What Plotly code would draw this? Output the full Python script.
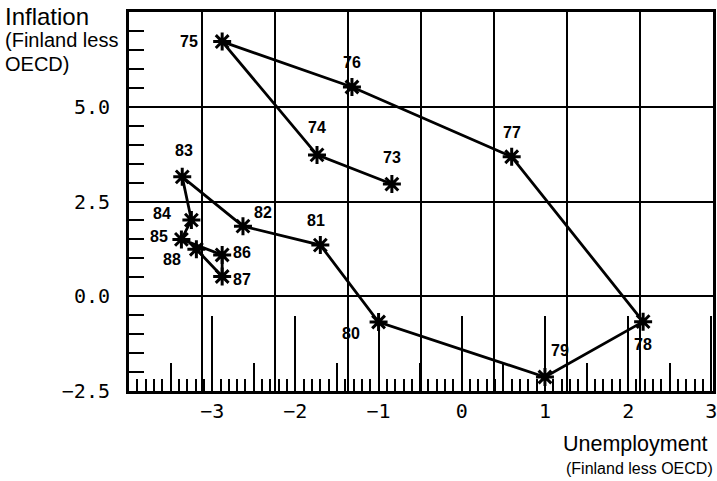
import plotly.graph_objects as go

# Data: Finland less OECD, 1973-1988
years = ["73", "74", "75", "76", "77", "78", "79", "80",
         "81", "82", "83", "84", "85", "86", "87", "88"]
unemployment = [-0.84, -1.74, -2.88, -1.32, 0.60, 2.18, 1.00, -1.00,
                -1.70, -2.63, -3.36, -3.25, -3.37, -2.88, -2.88, -3.19]
inflation = [2.96, 3.73, 6.72, 5.52, 3.68, -0.67, -2.13, -0.68,
             1.35, 1.85, 3.15, 2.01, 1.50, 1.09, 0.52, 1.24]

x_ticks = [-3, -2, -1, 0, 1, 2, 3]
x_half_ticks = [-3.5, -2.5, -1.5, -0.5, 0.5, 1.5, 2.5]
y_ticks = [-2.5, 0.0, 2.5, 5.0]
y_ticktext = ["\u22122.5", "0.0", "2.5", "5.0"]

# label offsets in pixels (style only)
label_dx = [0, 0, -33, 0, 0, 0, 15, -28, -4, 20, 2, -29, -22, 20, 20, -24]
label_dy = [27, 27, 0, 25, 24, -23, 26, -11, 25, 14, 26, 7, 3, 2, -3, -10]

X_RANGE = [-4, 3.02]
Y_RANGE = [-2.5, 7.5]
GRID_COLS = 8

label_font = dict(family="Liberation Sans", size=16, color="black", weight="bold")
tick_font = dict(family="DejaVu Sans Mono", size=20, color="black")

fig = go.Figure()

# invisible traces so the helper axes are rendered
fig.add_trace(go.Scatter(x=[], y=[], xaxis="x2", yaxis="y", showlegend=False, hoverinfo="skip"))
fig.add_trace(go.Scatter(x=[], y=[], xaxis="x3", yaxis="y", showlegend=False, hoverinfo="skip"))

fig.add_trace(go.Scatter(
    x=unemployment, y=inflation,
    mode="lines+markers",
    line=dict(color="black", width=2.8),
    marker=dict(symbol="asterisk-open", size=15, color="black",
                line=dict(color="black", width=3)),
    showlegend=False,
    cliponaxis=False,
))

for xv, yv, t, dx, dy in zip(unemployment, inflation, years, label_dx, label_dy):
    fig.add_annotation(x=xv, y=yv, text=t, showarrow=False,
                       xshift=dx, yshift=dy, font=label_font,
                       xanchor="center", yanchor="middle")

fig.update_layout(
    width=717, height=481,
    margin=dict(l=129, r=4, t=12, b=90, autoexpand=False),
    paper_bgcolor="white", plot_bgcolor="white",
    showlegend=False,
    xaxis=dict(
        range=X_RANGE, tickmode="array", tickvals=x_ticks,
        ticktext=[("\u2212%d" % -v) if v < 0 else str(v) for v in x_ticks],
        ticks="inside", ticklen=75, tickwidth=1.5, tickcolor="black",
        minor=dict(dtick=0.1, tick0=0, ticks="inside", ticklen=12,
                   tickwidth=1.5, tickcolor="black", showgrid=False),
        showgrid=False, zeroline=False,
        showline=True, linewidth=3, linecolor="black", mirror=True,
        tickfont=tick_font, automargin=False, ticklabeloverflow="allow",
    ),
    xaxis2=dict(
        range=[0, GRID_COLS], dtick=1, overlaying="x", side="top",
        showgrid=True, gridcolor="black", gridwidth=2,
        showticklabels=False, ticks="", zeroline=False, showline=False,
        anchor="y", automargin=False,
    ),
    xaxis3=dict(
        range=X_RANGE, tickmode="array", tickvals=x_half_ticks,
        overlaying="x", side="bottom", anchor="y",
        ticks="inside", ticklen=28, tickwidth=1.8, tickcolor="black",
        showticklabels=False, showgrid=False, zeroline=False, showline=False,
        automargin=False,
    ),
    yaxis=dict(
        range=Y_RANGE, tickmode="array", tickvals=y_ticks, ticktext=y_ticktext,
        ticks="inside", ticklen=15, tickwidth=2, tickcolor="black",
        minor=dict(dtick=0.5, tick0=0, ticks="inside", ticklen=15,
                   tickwidth=2, tickcolor="black", showgrid=False),
        showgrid=True, gridcolor="black", gridwidth=2,
        zeroline=False,
        showline=True, linewidth=3, linecolor="black", mirror=True,
        tickfont=tick_font, ticklabelstandoff=12, automargin=False,
    ),
)

title_big_l = dict(family="Liberation Sans", size=24, color="black")
title_small_l = dict(family="Liberation Sans", size=20, color="black")
title_big_r = dict(family="Liberation Sans", size=21.5, color="black")
title_small_r = dict(family="Liberation Sans", size=16, color="black")

def px_x(p):
    return (p - 129) / 584.0

def px_y(p):
    return (391 - p) / 379.0

fig.add_annotation(text="Inflation", xref="paper", yref="paper",
                   x=px_x(3), y=px_y(16), xanchor="left", yanchor="middle",
                   showarrow=False, font=title_big_l)
fig.add_annotation(text="(Finland less", xref="paper", yref="paper",
                   x=px_x(3), y=px_y(40), xanchor="left", yanchor="middle",
                   showarrow=False, font=title_small_l)
fig.add_annotation(text="OECD)", xref="paper", yref="paper",
                   x=px_x(3), y=px_y(64), xanchor="left", yanchor="middle",
                   showarrow=False, font=title_small_l)
fig.add_annotation(text="Unemployment", xref="paper", yref="paper",
                   x=px_x(561), y=px_y(444), xanchor="left", yanchor="middle",
                   showarrow=False, font=title_big_r)
fig.add_annotation(text="(Finland less OECD)", xref="paper", yref="paper",
                   x=px_x(715), y=px_y(468), xanchor="right", yanchor="middle",
                   showarrow=False, font=title_small_r)

fig.write_html("out.html",
               config={"displayModeBar": False},
               post_script="document.body.style.margin='0px';"
                           "document.body.style.overflow='hidden';")
